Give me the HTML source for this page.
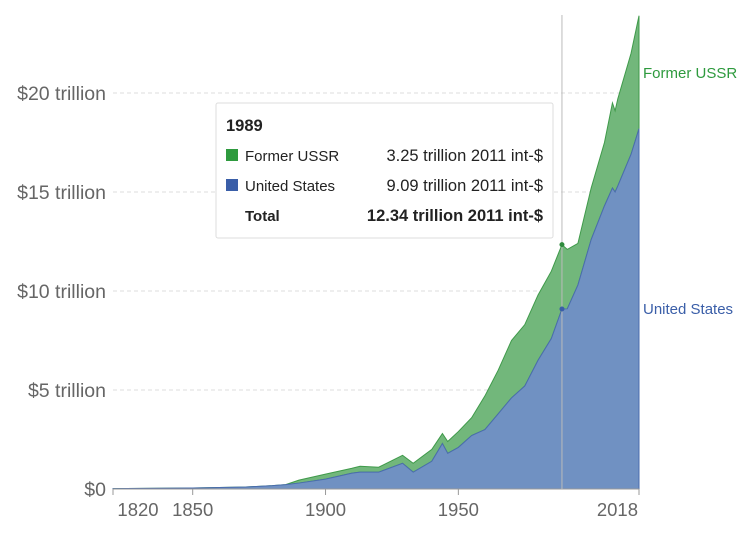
<!DOCTYPE html>
<html><head><meta charset="utf-8"><style>
body{margin:0;background:#fff;font-family:"Liberation Sans",sans-serif}
svg{display:block}
</style></head><body>
<svg id="c" width="754" height="538"></svg>
<script>
const years=[1820,1850,1870,1880,1885,1890,1900,1910,1913,1920,1929,1933,1940,1944,1946,1950,1955,1960,1965,1970,1975,1980,1985,1989,1991,1995,2000,2005,2008,2009,2010,2015,2018];
const usValues=[0.02,0.05,0.1,0.17,0.22,0.3,0.5,0.8,0.85,0.85,1.3,0.85,1.4,2.3,1.8,2.1,2.7,3.0,3.8,4.6,5.2,6.5,7.6,9.09,9.1,10.3,12.6,14.3,15.2,15.0,15.3,16.9,18.2];
const ussrValues=[0,0,0,0,0,0.15,0.25,0.25,0.3,0.25,0.4,0.45,0.6,0.5,0.6,0.8,0.9,1.7,2.2,2.9,3.1,3.3,3.4,3.25,3.0,2.1,2.6,3.2,4.3,4.1,4.4,5.1,5.7];
const yTicks=[0,5,10,15,20];
const yTickLabels=["$0","$5 trillion","$10 trillion","$15 trillion","$20 trillion"];
const xTicks=[1820,1850,1900,1950,2018];
const NS="http://www.w3.org/2000/svg";
const svg=document.getElementById('c');
const X=y=>113+(y-1820)*(639-113)/(2018-1820);
const Y=v=>489-v*19.8;
function el(t,a,p){const e=document.createElementNS(NS,t);for(const k in a)e.setAttribute(k,a[k]);(p||svg).appendChild(e);return e;}
yTicks.forEach((t,i)=>{
  if(t>0){const g=el('line',{x1:113,x2:639,y1:Y(t),y2:Y(t),stroke:'#ddd','stroke-dasharray':'4,3'});
  
  }
  const tx=el('text',{x:106,y:Y(t)+7,'text-anchor':'end','font-size':19.5,fill:'#666'});
  tx.textContent=yTickLabels[i];
  
  
});
const tot=usValues.map((u,i)=>u+ussrValues[i]);
let pTop=years.map((y,i)=>X(y)+','+Y(tot[i])).join(' L');
let pUs=years.map((y,i)=>X(y)+','+Y(usValues[i])).join(' L');
let rev=years.slice().reverse().map((y,j)=>{const i=years.length-1-j;return X(y)+','+Y(usValues[i]);}).join(' L');
const g1=el('path',{d:'M'+pTop+' L'+rev+'Z',fill:'#72b77b',stroke:'#3f9a4a','stroke-width':1});


const g2=el('path',{d:'M'+X(1820)+','+Y(0)+' L'+pUs+' L'+X(2018)+','+Y(0)+'Z',fill:'#7091c2',stroke:'#4a6cae','stroke-width':1});


const ax=el('line',{x1:113,x2:639,y1:489,y2:489,stroke:'#999'});


xTicks.forEach(t=>{
  el('line',{x1:X(t),x2:X(t),y1:489,y2:495,stroke:'#999'});
  const tx=el('text',{x:X(t)+(t==1820?25:0),y:516,'text-anchor':t==2018?'end':'middle','font-size':18.5,fill:'#666'});
  if(t==2018)tx.setAttribute('x',X(t)-1);
  tx.textContent=t;
  
  
});
const hi=years.indexOf(1989);
const vl=el('line',{x1:X(1989),x2:X(1989),y1:15,y2:489,stroke:'#bbb'});


el('circle',{cx:X(1989),cy:Y(tot[hi]),r:2.5,fill:'#2e8b3d'});
el('circle',{cx:X(1989),cy:Y(usValues[hi]),r:2.5,fill:'#3a5ea8'});
const l1=el('text',{x:643,y:78,'font-size':15,fill:'#2e9a3e'});l1.textContent='Former USSR';


const l2=el('text',{x:643,y:314,'font-size':15,fill:'#3a5ea8'});l2.textContent='United States';


const tt=el('g',{});


el('rect',{x:216,y:103,width:337,height:135,fill:'#fff',stroke:'#ddd',rx:2},tt);
const rows=[['1989',131,'bold',null,''],['Former USSR',161,'normal','#2e9a3e',ussrValues[hi].toFixed(2)+' trillion 2011 int-$'],['United States',191,'normal','#3a5ea8',usValues[hi].toFixed(2)+' trillion 2011 int-$'],['Total',221,'bold',null,tot[hi].toFixed(2)+' trillion 2011 int-$']];
rows.forEach((r,i)=>{
  const lx=i==0?226:245;
  if(r[3])el('rect',{x:226,y:r[1]-12,width:12,height:12,fill:r[3]},tt);
  const a=el('text',{x:lx,y:r[1],'font-size':i==0?16.5:15,'font-weight':r[2],fill:'#222'},tt);a.textContent=r[0];
  if(r[4]){const b=el('text',{x:543,y:r[1],'text-anchor':'end','font-size':16.5,'font-weight':r[2],fill:'#222'},tt);b.textContent=r[4];}
});
</script>
</body></html>
